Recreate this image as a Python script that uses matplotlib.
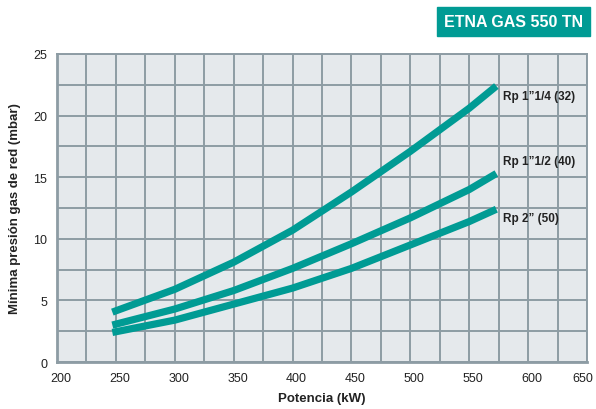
import numpy as np
import matplotlib.pyplot as plt
import matplotlib.transforms as mtransforms
from matplotlib.patches import Rectangle

# potencia (kW) and minimum gas pressure (mbar)
potencia = [247, 300, 350, 400, 450, 500, 550, 573]
rp_114 = [4.05, 5.9, 8.1, 10.7, 13.8, 17.1, 20.6, 22.4]
rp_112 = [3.0, 4.3, 5.8, 7.6, 9.6, 11.7, 14.0, 15.3]
rp_2 = [2.4, 3.4, 4.7, 6.0, 7.6, 9.5, 11.4, 12.4]

labels = ["Rp 1\u201d1/4 (32)", "Rp 1\u201d1/2 (40)", "Rp 2\u201d (50)"]
label_y = [21.6, 16.3, 11.7]

x_ticks = np.arange(200, 651, 50)
y_ticks = np.arange(0, 26, 5)

teal = "#009b94"
grid_col = "#8d9ca4"

plt.rcParams['font.family'] = ['Liberation Sans', 'DejaVu Sans']


def main():
    fig = plt.figure(figsize=(5.96, 4.10), dpi=100)
    ax = fig.add_axes([0.0956, 0.1146, 0.8894, 0.7513])
    ax.set_facecolor("#e5e9ec")

    ax.set_xlim(200, 650)
    ax.set_ylim(0, 25)
    ax.set_xticks(x_ticks)
    ax.set_yticks(y_ticks)
    ax.set_xticks(np.arange(225, 650, 50), minor=True)
    ax.set_yticks(np.arange(2.5, 25, 5), minor=True)
    ax.grid(True, which='both', color=grid_col, lw=1.4)
    ax.set_axisbelow(True)
    ax.tick_params(which='both', length=0)
    ax.tick_params(axis='x', pad=7, labelsize=9, colors="#222222")
    ax.tick_params(axis='y', pad=7, labelsize=9, colors="#222222")
    # tick labels sit a few pixels right of the grid lines in the original
    shift = mtransforms.ScaledTranslation(4 / 100, 0, fig.dpi_scale_trans)
    xlabs = ax.get_xticklabels()
    for lab in xlabs:
        lab.set_transform(lab.get_transform() + shift)
    last_shift = mtransforms.ScaledTranslation(2 / 100, 0, fig.dpi_scale_trans)
    xlabs[-1].set_horizontalalignment('right')
    xlabs[-1].set_transform(xlabs[-1].get_transform() + last_shift)
    for s in ax.spines.values():
        s.set_color(grid_col)
        s.set_linewidth(1.4)
    ax.spines['left'].set_linewidth(2)
    ax.spines['bottom'].set_linewidth(2)

    for ys in (rp_114, rp_112, rp_2):
        ax.plot(potencia, ys, color=teal, lw=5.2, solid_capstyle='butt',
                solid_joinstyle='round')

    for txt, yy in zip(labels, label_y):
        ax.text(579, yy, txt, fontsize=8.5, fontweight='bold',
                color="#222222", va='center', ha='left')

    ax.set_xlabel("Potencia (kW)", fontsize=9.5, fontweight='bold',
                  labelpad=6, color="#222222")
    ax.set_ylabel("M\u00ednima presi\u00f3n gas de red (mbar)", fontsize=9.5,
                  fontweight='bold', labelpad=9, color="#222222")

    # title box top right
    fig.patches.append(Rectangle((437 / 596, 1 - 37 / 410), 153 / 596, 29 / 410,
                                 transform=fig.transFigure, color=teal))
    fig.text(513.5 / 596, 1 - 22.5 / 410, "ETNA GAS 550 TN", color='white',
             fontsize=11.5, fontweight='bold', ha='center', va='center')

    fig.savefig("out.png", dpi=100)


if __name__ == "__main__":
    main()
